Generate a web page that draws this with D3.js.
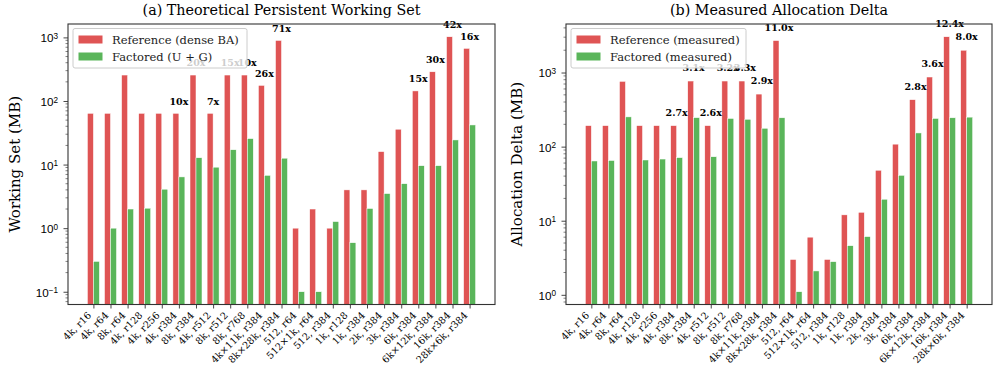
<!DOCTYPE html>
<html><head><meta charset="utf-8">
<script src="https://cdn.jsdelivr.net/npm/d3@7"></script>
<style>
html,body{margin:0;padding:0;background:#fff;}
svg{display:block;font-family:"DejaVu Serif",serif;}
</style></head>
<body><svg id="chart" width="996" height="379"></svg>
<script>
const categories = ["4k, r16","4k, r64","8k, r64","4k, r128","4k, r256","4k, r384","8k, r384","4k, r512","8k, r512","8k, r768","4k×11k, r384","8k×28k, r384","512, r64","512×1k, r64","512, r384","1k, r128","1k, r384","2k, r384","3k, r384","6k, r384","6k×12k, r384","16k, r384","28k×6k, r384"];

const theoryRef  = [64,64,256,64,64,64,256,64,256,256,176,896,1,2,1,4,4,16,36,144,288,1024,672];
const theoryFact = [0.3,1.0,2.0,2.06,4.1,6.4,12.8,9.1,17.1,25.6,6.77,12.6,0.1,0.1,1.27,0.59,2.04,3.5,5.0,9.6,9.6,24.4,42];
const theoryLabels = [null,null,null,null,null,"10x","20x","7x","15x","10x","26x","71x",null,null,null,null,null,null,null,"15x","30x","42x","16x"];

const measRef  = [192,192,760,192,192,192,768,192,768,768,512,2700,3,6,3,12,13,48,108,430,870,3040,2000];
const measFact = [64,65,252,66,68,71,246,73,240,234,177,245,1.1,2.1,2.8,4.6,6.1,19.5,41,153,240,245,250];
const measLabels = [null,null,null,null,null,"2.7x","3.1x","2.6x","3.2x","3.3x","2.9x","11.0x",null,null,null,null,null,null,null,"2.8x","3.6x","12.4x","8.0x"];

const RED = "#df5454", GREEN = "#5ab55a", SPINE = "#333";
const svg = d3.select("#chart");

function panel(o){
  const g = svg.append("g");
  const n = categories.length, w = 0.35;
  const x = d3.scaleLinear().domain([-w - 0.05*(n-1+2*w), n-1+w + 0.05*(n-1+2*w)]).range([o.left, o.right]);
  const all = o.ref.concat(o.fact);
  const lo = Math.log10(d3.min(all)), hi = Math.log10(d3.max(all)), m = 0.05*(hi-lo);
  const y = d3.scaleLog().domain([Math.pow(10, lo-m), Math.pow(10, hi+m)]).range([o.bottom, o.top]);

  const clip = "clip" + o.id;
  g.append("clipPath").attr("id", clip).append("rect")
    .attr("x", o.left).attr("y", o.top).attr("width", o.right-o.left).attr("height", o.bottom-o.top);
  const bars = g.append("g").attr("clip-path", `url(#${clip})`);
  const px = x(w) - x(0);
  bars.selectAll("rect.r").data(o.ref).join("rect")
    .attr("x", (d,i)=>x(i-w)).attr("width", px)
    .attr("y", d=>y(d)).attr("height", d=>o.bottom - y(d))
    .attr("fill", RED).attr("stroke", "#fff").attr("stroke-width", 0.5);
  bars.selectAll("rect.f").data(o.fact).join("rect")
    .attr("x", (d,i)=>x(i)).attr("width", px)
    .attr("y", d=>y(d)).attr("height", d=>o.bottom - y(d))
    .attr("fill", GREEN).attr("stroke", "#fff").attr("stroke-width", 0.5);

  // annotations
  g.selectAll("text.ann").data(o.labels.map((l,i)=>({l,i})).filter(d=>d.l)).join("text")
    .attr("x", d=>x(d.i)).attr("y", d=>y(o.ref[d.i]*1.27) - 2.2)
    .attr("text-anchor","middle").attr("font-size", 9.5).attr("font-weight","bold")
    .attr("fill","#000").text(d=>d.l);

  // y axis
  const yAxis = d3.axisLeft(y).tickValues(d3.range(Math.ceil(lo-m), Math.floor(hi+m)+1).map(k=>Math.pow(10,k)))
    .tickSize(4.5).tickFormat("");
  const ya = g.append("g").attr("transform", `translate(${o.left},0)`).call(yAxis);
  ya.select(".domain").remove();
  ya.selectAll("line").attr("stroke", SPINE).attr("stroke-width", 0.9);
  ya.selectAll(".tick").each(function(d){
    const k = Math.round(Math.log10(d));
    const t = d3.select(this).append("text").attr("x", -10).attr("dy", "0.38em")
      .attr("text-anchor","end").attr("fill","#000").attr("font-size", 11.7);
    t.append("tspan").text("10");
    t.append("tspan").attr("dy","-0.42em").attr("font-size", 8.2).text(k < 0 ? "\u2212" + (-k) : String(k));
  });
  // minor ticks
  const minors = [];
  for (let k = Math.floor(lo-m); k <= Math.ceil(hi+m); k++)
    for (let j = 2; j <= 9; j++){ const v = j*Math.pow(10,k); if (v >= y.domain()[0] && v <= y.domain()[1]) minors.push(v); }
  g.append("g").selectAll("line").data(minors).join("line")
    .attr("x1", o.left-2.5).attr("x2", o.left).attr("y1", d=>y(d)).attr("y2", d=>y(d))
    .attr("stroke", SPINE).attr("stroke-width", 0.6);

  // x axis
  const xAxis = d3.axisBottom(x).tickValues(d3.range(n)).tickSize(4).tickFormat("");
  const xa = g.append("g").attr("transform", `translate(0,${o.bottom})`).call(xAxis);
  xa.select(".domain").remove();
  xa.selectAll("line").attr("stroke", SPINE).attr("stroke-width", 0.9);
  g.append("g").selectAll("text").data(categories).join("text")
    .attr("transform", (d,i)=>`translate(${x(i)-1.5},${o.bottom+11.5}) rotate(-45)`)
    .attr("text-anchor","end").attr("font-size", 9.7).attr("fill","#000").text(d=>d);

  // frame
  g.append("rect").attr("x", o.left).attr("y", o.top).attr("width", o.right-o.left).attr("height", o.bottom-o.top)
    .attr("fill","none").attr("stroke", SPINE).attr("stroke-width", 1.1);

  // title
  g.append("text").attr("x", (o.left+o.right)/2).attr("y", 15).attr("text-anchor","middle")
    .attr("font-size", 14.3).attr("fill","#000").text(o.title);
  // ylabel
  g.append("text").attr("transform", `translate(${o.ylabX},${(o.top+o.bottom)/2}) rotate(-90)`)
    .attr("text-anchor","middle").attr("font-size", 15).attr("fill","#000").text(o.ylabel);

  // legend
  const lg = g.append("g").attr("transform", `translate(${o.left+5},${o.top+4.5})`);
  lg.append("rect").attr("x",0).attr("y",0).attr("width", o.legW).attr("height", 39.5).attr("rx", 2)
    .attr("fill","#fff").attr("fill-opacity",0.8).attr("stroke","#ccc").attr("stroke-width",1);
  o.legend.forEach((t,i)=>{
    lg.append("rect").attr("x",5.5).attr("y", 7 + i*17).attr("width",24).attr("height",8)
      .attr("fill", i===0?RED:GREEN);
    lg.append("text").attr("x", 39).attr("y", 15.5 + i*17).attr("font-size", 11.5).attr("fill","#222").text(t);
  });
}

panel({id:"a", left:68, right:495, top:24, bottom:304.5, ref:theoryRef, fact:theoryFact, labels:theoryLabels,
  title:"(a) Theoretical Persistent Working Set", ylabel:"Working Set (MB)", ylabX:19.5,
  legend:["Reference (dense BA)","Factored (U + G)"], legW:174});
panel({id:"b", left:566, right:992, top:24, bottom:304.5, ref:measRef, fact:measFact, labels:measLabels,
  title:"(b) Measured Allocation Delta", ylabel:"Allocation Delta (MB)", ylabX:522,
  legend:["Reference (measured)","Factored (measured)"], legW:175});
</script></body></html>
